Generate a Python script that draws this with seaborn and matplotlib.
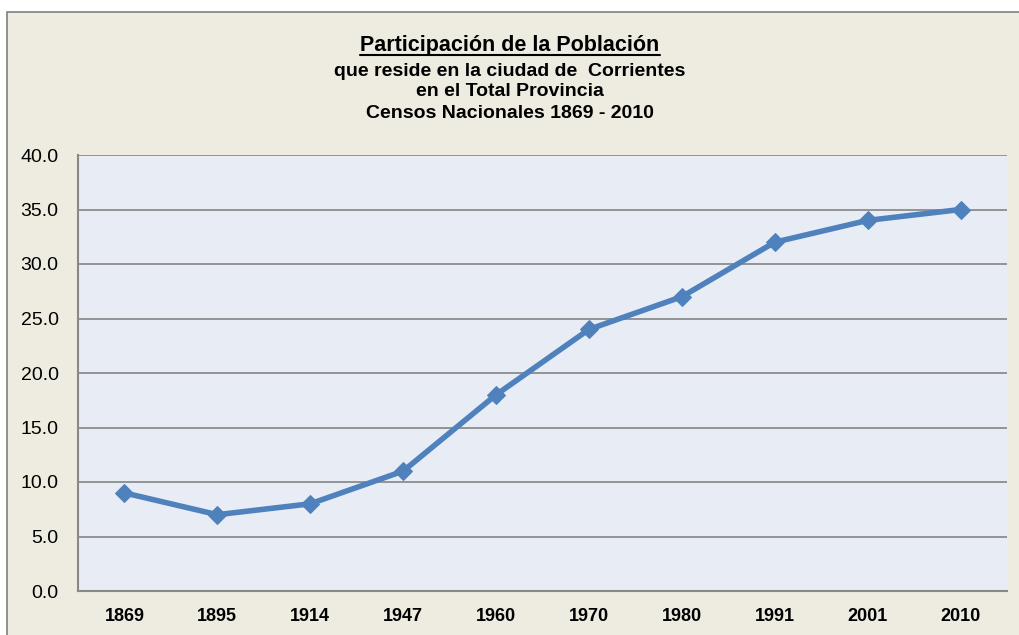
import matplotlib
matplotlib.use("Agg")
import matplotlib.pyplot as plt
import seaborn as sns
import pandas as pd
import numpy as np
from matplotlib.patches import Rectangle
from matplotlib.lines import Line2D

years = ["1869", "1895", "1914", "1947", "1960", "1970", "1980", "1991", "2001", "2010"]
share = [9.0, 7.0, 8.0, 11.0, 18.0, 24.0, 27.0, 32.0, 34.0, 35.0]
yticks = [0, 5, 10, 15, 20, 25, 30, 35, 40]

df = pd.DataFrame({"anio": years, "pct": share})

sns.set_style("white")
plt.rcParams["font.family"] = ["Liberation Sans", "DejaVu Sans"]
plt.rcParams["text.color"] = "black"
plt.rcParams["xtick.labelcolor"] = "black"
plt.rcParams["ytick.labelcolor"] = "black"

fig = plt.figure(figsize=(10.2, 6.35), dpi=100)
fig.patch.set_facecolor("white")
# outer chart frame
fig.patches.append(Rectangle((7 / 1020, -0.1), 1.2, (635 - 12) / 635 + 0.1,
                             transform=fig.transFigure, facecolor="#EEEBE0",
                             edgecolor="#808080", lw=1.2, zorder=-10))

ax = fig.add_axes([78 / 1020, 44 / 635, (1007 - 78) / 1020, (591 - 155) / 635])
ax.set_facecolor("#E8EDF5")

sns.lineplot(data=df, x="anio", y="pct", ax=ax, color="#4F81BD", lw=4,
             marker="D", markersize=9, markeredgecolor="#4F81BD", sort=False)

ax.set_xlim(-0.5, len(years) - 0.5)
ax.set_ylim(0, 40)
ax.set_yticks(yticks)
ax.set_yticklabels([f"{v:.1f}" for v in yticks], fontsize=14)
ax.set_xticks(range(len(years)))
ax.set_xticklabels(years, fontsize=13, fontweight="bold")
ax.set_xticks(np.arange(-0.5, len(years), 1), minor=True)
ax.tick_params(axis="x", which="major", length=0, pad=12)
ax.tick_params(axis="x", which="minor", length=6, width=1.5, color="#888888", direction="out")
ax.tick_params(axis="y", length=6, width=1.5, color="#888888", direction="out", pad=8)
ax.set_xlabel("")
ax.set_ylabel("")
ax.yaxis.grid(True, color="#8C8C8C", lw=1.3)
ax.set_axisbelow(True)
for s in ["top", "right"]:
    ax.spines[s].set_visible(False)
for s in ["left", "bottom"]:
    ax.spines[s].set_color("#888888")
    ax.spines[s].set_linewidth(1.5)

t1 = fig.text(0.5, 1 - 46 / 635, "Participación de la Población", ha="center", va="center",
              fontsize=15.5, fontweight="bold")
sub = ["que reside en la ciudad de  Corrientes", "en el Total Provincia",
       "Censos Nacionales 1869 - 2010"]
for i, (s, y) in enumerate(zip(sub, [71, 92, 113])):
    fig.text(0.5, 1 - y / 635, s, ha="center", va="center",
             fontsize=14, fontweight="bold")

# underline for the first title line
r = fig.canvas.get_renderer()
bb = t1.get_window_extent(renderer=r).transformed(fig.transFigure.inverted())
fig.lines.append(Line2D([bb.x0, bb.x1], [bb.y0 + 2 / 635, bb.y0 + 2 / 635],
                        transform=fig.transFigure, color="black", lw=1.5))

fig.savefig("out.png", dpi=100, facecolor=fig.get_facecolor())
